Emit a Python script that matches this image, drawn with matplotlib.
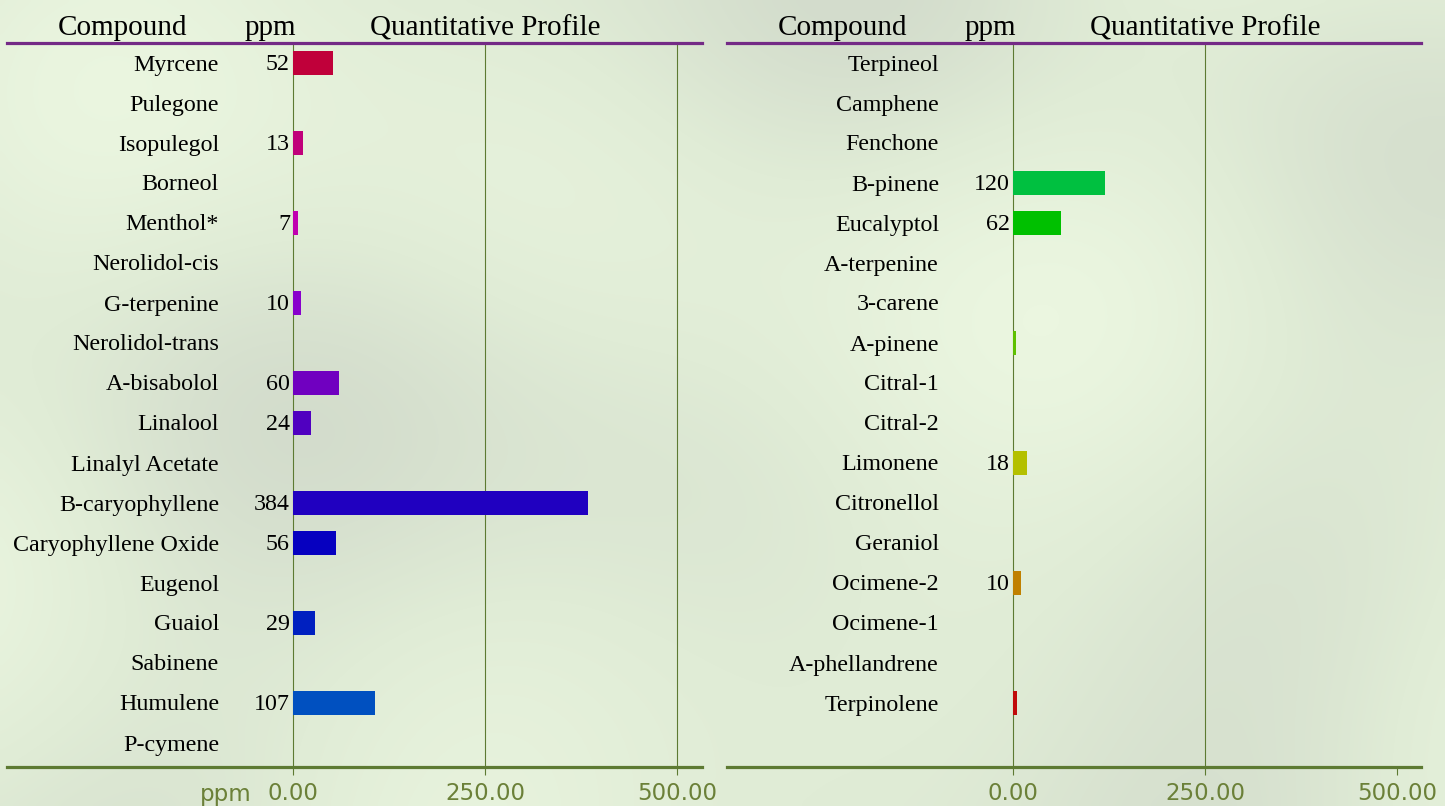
import numpy as np
import matplotlib.pyplot as plt
from matplotlib.colors import LinearSegmentedColormap

# left panel data
left_names = ["Myrcene", "Pulegone", "Isopulegol", "Borneol", "Menthol*", "Nerolidol-cis",
              "G-terpenine", "Nerolidol-trans", "A-bisabolol", "Linalool", "Linalyl Acetate",
              "B-caryophyllene", "Caryophyllene Oxide", "Eugenol", "Guaiol", "Sabinene",
              "Humulene", "P-cymene"]
left_ppm = [52, 0, 13, 0, 7, 0, 10, 0, 60, 24, 0, 384, 56, 0, 29, 0, 107, 0]
left_colors = ["#c0003a", "#c00050", "#c0007a", "#c00095", "#c000b0", "#a000c0",
               "#8800cc", "#7800c4", "#7000c0", "#5000c0", "#3800c0",
               "#2000c0", "#0600c0", "#0010c0", "#0020c0", "#0038c0",
               "#0050c0", "#0068c0"]

# right panel data
right_names = ["Terpineol", "Camphene", "Fenchone", "B-pinene", "Eucalyptol", "A-terpenine",
               "3-carene", "A-pinene", "Citral-1", "Citral-2", "Limonene", "Citronellol",
               "Geraniol", "Ocimene-2", "Ocimene-1", "A-phellandrene", "Terpinolene"]
right_ppm = [0, 0, 0, 120, 62, 0, 0, 3.5, 0, 0, 18, 0, 0, 10, 0, 0, 5]
right_colors = ["#00a0c0", "#00b0a0", "#00c070", "#00c040", "#00c000", "#20c000",
                "#40c000", "#5ec000", "#78c000", "#96c000", "#b4c000", "#c0b000",
                "#c09800", "#c08000", "#c05800", "#c03000", "#c00a0a"]

ticks = [0, 250, 500]
tick_labels = ["0.00", "250.00", "500.00"]

W, H = 1445, 806
fig = plt.figure(figsize=(W / 100, H / 100), dpi=100)

# soft mottled background
bg = fig.add_axes([0, 0, 1, 1], zorder=-10)
gx, gy = np.meshgrid(np.linspace(0, 1, 300), np.linspace(0, 1, 170))
tex = (np.sin(gx * 9.0 + gy * 4.0) + np.sin(gx * 5.0 - gy * 7.0 + 1.3)
       + 0.6 * np.sin(gx * 17.0 + gy * 2.0 + 0.7) + 0.5 * np.sin(gy * 11.0 - gx * 3.0))
tex = (tex - tex.min()) / (tex.max() - tex.min())
bg_cmap = LinearSegmentedColormap.from_list("bg", ["#d3dccc", "#e0ecd6", "#ebf6e0"])
bg.imshow(tex, cmap=bg_cmap, aspect="auto", extent=[0, 1, 0, 1], interpolation="bicubic")
bg.axis("off")

serif = "Liberation Serif"
olive = "#5d7a32"
tick_col = "#6b8038"
px_per_ppm = 384 / 500
pt = 0.72  # points per pixel at dpi 100


def draw_panel(x0, x1, zero_px, names, values, colors, grid_at, show_ppm):
    top, bottom = 43, 767
    ax = fig.add_axes([x0 / W, 1 - bottom / H, (x1 - x0) / W, (bottom - top) / H])
    ax.set_facecolor("none")
    ax.set_xlim((x0 - zero_px) / px_per_ppm, (x1 - zero_px) / px_per_ppm)
    ax.set_ylim((bottom - 63) / 40, (top - 63) / 40)

    rows = np.arange(len(names))
    for g in grid_at:
        ax.axvline(g, color=olive, lw=0.8, zorder=1)
    ax.barh(rows, values, height=0.6, color=colors, zorder=2)

    for i, (name, v) in enumerate(zip(names, values)):
        ax.annotate(name, (0, i), xytext=(-74 * pt, -2 * pt), textcoords="offset points",
                    ha="right", va="center", fontsize=17.3, family=serif, color="black")
        if v >= 7:
            ax.annotate(f"{v:g}", (0, i), xytext=(-3 * pt, -2 * pt), textcoords="offset points",
                        ha="right", va="center", fontsize=17.3, family=serif, color="black")

    # column headers
    for label, dx in [("Compound", -171), ("ppm", -23)]:
        ax.annotate(label, (0, 1), xycoords=("data", "axes fraction"),
                    xytext=(dx * pt, 15 * pt), textcoords="offset points",
                    ha="center", va="center", fontsize=21, family=serif)
    ax.annotate("Quantitative Profile", (250, 1), xycoords=("data", "axes fraction"),
                xytext=(0, 15 * pt), textcoords="offset points",
                ha="center", va="center", fontsize=21, family=serif)

    for side in ["left", "right"]:
        ax.spines[side].set_visible(False)
    ax.spines["top"].set_color("#742a86")
    ax.spines["top"].set_linewidth(2.3)
    ax.spines["bottom"].set_color(olive)
    ax.spines["bottom"].set_linewidth(2.3)

    ax.set_yticks([])
    ax.set_xticks(ticks)
    ax.set_xticklabels(tick_labels)
    ax.tick_params(axis="x", direction="out", length=6, width=0.8, color=olive,
                   labelcolor=tick_col, labelsize=16.5, pad=5)
    if show_ppm:
        ax.annotate("ppm", (0, 0), xycoords=("data", "axes fraction"),
                    xytext=(-67 * pt, -27 * pt), textcoords="offset points",
                    ha="center", va="center", fontsize=16.5, color=tick_col)
    return ax


draw_panel(7, 702, 293, left_names, left_ppm, left_colors, [0, 250, 500], True)
draw_panel(727, 1421, 1013, right_names, right_ppm, right_colors, [0, 250], False)

fig.savefig("out.png", dpi=100)
